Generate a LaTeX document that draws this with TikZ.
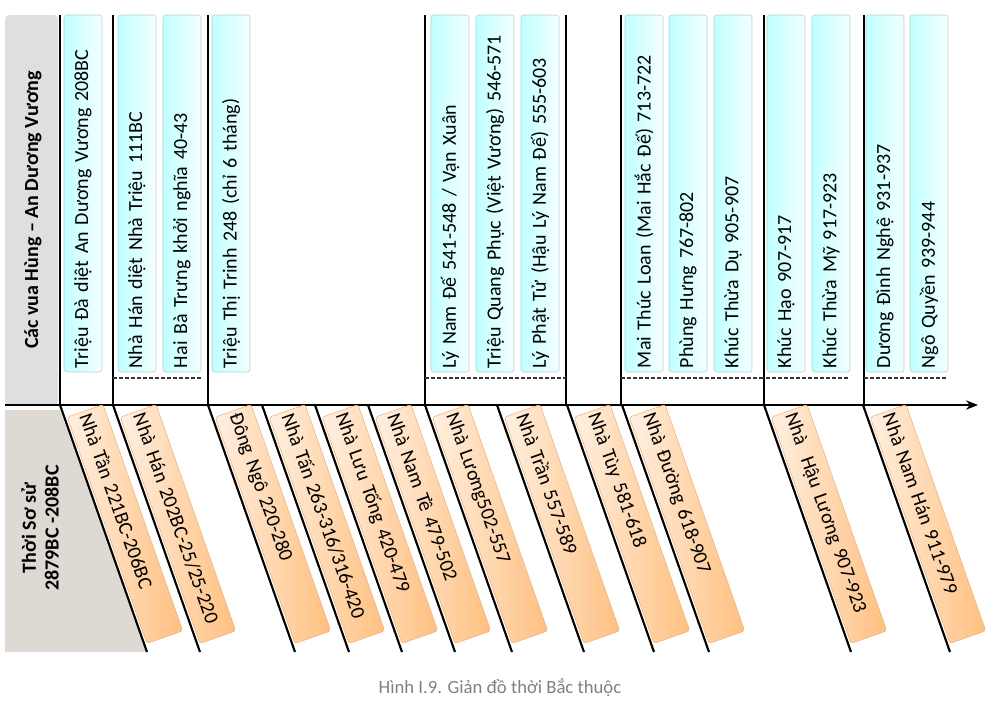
\documentclass[tikz,border=0pt]{standalone}
\usepackage{fontspec}
\setmainfont{Carlito}
\usetikzlibrary{arrows.meta}
\begin{document}
\begin{tikzpicture}[x=0.75pt,y=-0.75pt,
  blue box/.style={draw=cyan!30!gray!50, rounded corners=2pt, rotate=90,
    left color=cyan!25, right color=cyan!4, minimum width={357*0.75pt},
    minimum height={38*0.75pt}, text width={349*0.75pt}, align=left,
    inner sep=1pt, font=\fontsize{15}{17}\selectfont},
  orange box/.style={draw=orange!60!brown!60, rounded corners=2pt, rotate=-70.6,
    left color=orange!12, right color=orange!50, minimum width={240*0.75pt},
    minimum height={38*0.75pt}, text width={234*0.75pt}, align=left,
    inner sep=1pt, font=\fontsize{15}{17}\selectfont},
  tline/.style={line width=1.6pt, black},
  sepdash/.style={line width=1.2pt, dash pattern=on 3pt off 1.5pt, black!80}]
\useasboundingbox (0,0) rectangle (1000,704);
% left panels
\fill[gray!25, rounded corners=3pt] (5,15) rectangle (58,405);
\node[rotate=90, font=\bfseries\fontsize{15}{17}\selectfont] (hung) at (33,210) {Các vua Hùng – An Dương Vương};
\fill[brown!30!gray!30!white] (5,410) -- (60,410) -- (147,652) -- (5,652) -- cycle;
\node[rotate=90, font=\bfseries\fontsize{15}{17}\selectfont, align=center] (soSu) at (40,528) {Thời Sơ sử\\2879BC -208BC};
% top vertical lines
\foreach \x [count=\i] in {60,113,208,425,566,621,764,864}{
  \coordinate (t\i) at (\x,15); \coordinate (b\i) at (\x,405);
  \draw[tline] (t\i) -- (b\i);}
% blue boxes
\foreach \x/\t [count=\i] in {83/{Triệu Đà diệt An Dương Vương 208BC},
  137/{Nhà Hán diệt Nhà Triệu 111BC}, 182/{Hai Bà Trưng khởi nghĩa 40-43},
  231/{Triệu Thị Trinh 248 (chỉ 6 tháng)}, 450/{Lý Nam Đế 541-548 / Vạn Xuân},
  495/{Triệu Quang Phục (Việt Vương) 546-571}, 540/{Lý Phật Tử (Hậu Lý Nam Đế) 555-603},
  644/{Mai Thúc Loan (Mai Hắc Đế) 713-722}, 688/{Phùng Hưng 767-802},
  733/{Khúc Thừa Dụ 905-907}, 786/{Khúc Hạo 907-917}, 831/{Khúc Thừa Mỹ 917-923},
  885/{Dương Đình Nghệ 931-937}, 929/{Ngô Quyền 939-944}}{
  \node[blue box] (u\i) at (\x,193.5) {\t};}
% dashed separators
\foreach \a/\b [count=\i] in {113/201,425/566,621/760,760/850,864/948}{
  \coordinate (dl\i) at (\a,378); \coordinate (dr\i) at (\b,378);
  \draw[sepdash] (dl\i) -- (dr\i);}
% axis
\coordinate (ax0) at (5,405); \coordinate (ax1) at (978,405);
\draw[line width=1.5pt, -{Stealth[length=9pt,width=7pt]}] (ax0) -- (ax1);
% slanted lines and orange boxes
\foreach \s/\t [count=\i] in {60/{Nhà Tần 221BC-206BC}, 113/{Nhà Hán 202BC-25/25-220},
  208/{Đông Ngô 220-280}, 262/{Nhà Tấn 263-316/316-420}, 315/{Nhà Lưu Tống 420-479},
  368/{Nhà Nam Tề 479-502}, 425/{Nhà Lương502-557}, 497/{Nhà Trần 557-589},
  567/{Nhà Tùy 581-618}, 622/{Nhà Đường 618-907}, 764/{Nhà~ Hậu Lương 907-923},
  863/{Nhà Nam Hán 911-979}}{
  \node[orange box] (o\i) at (\s+65,524) {\t};
  \coordinate (s\i) at (\s,405); \coordinate (e\i) at (\s+87,652);
  \draw[tline] (s\i) -- (e\i);}
\node[text=gray, font=\fontsize{14}{16}\selectfont] (cap) at (500,688) {Hình I.9. Giản đồ thời Bắc thuộc};
\end{tikzpicture}
\end{document}
